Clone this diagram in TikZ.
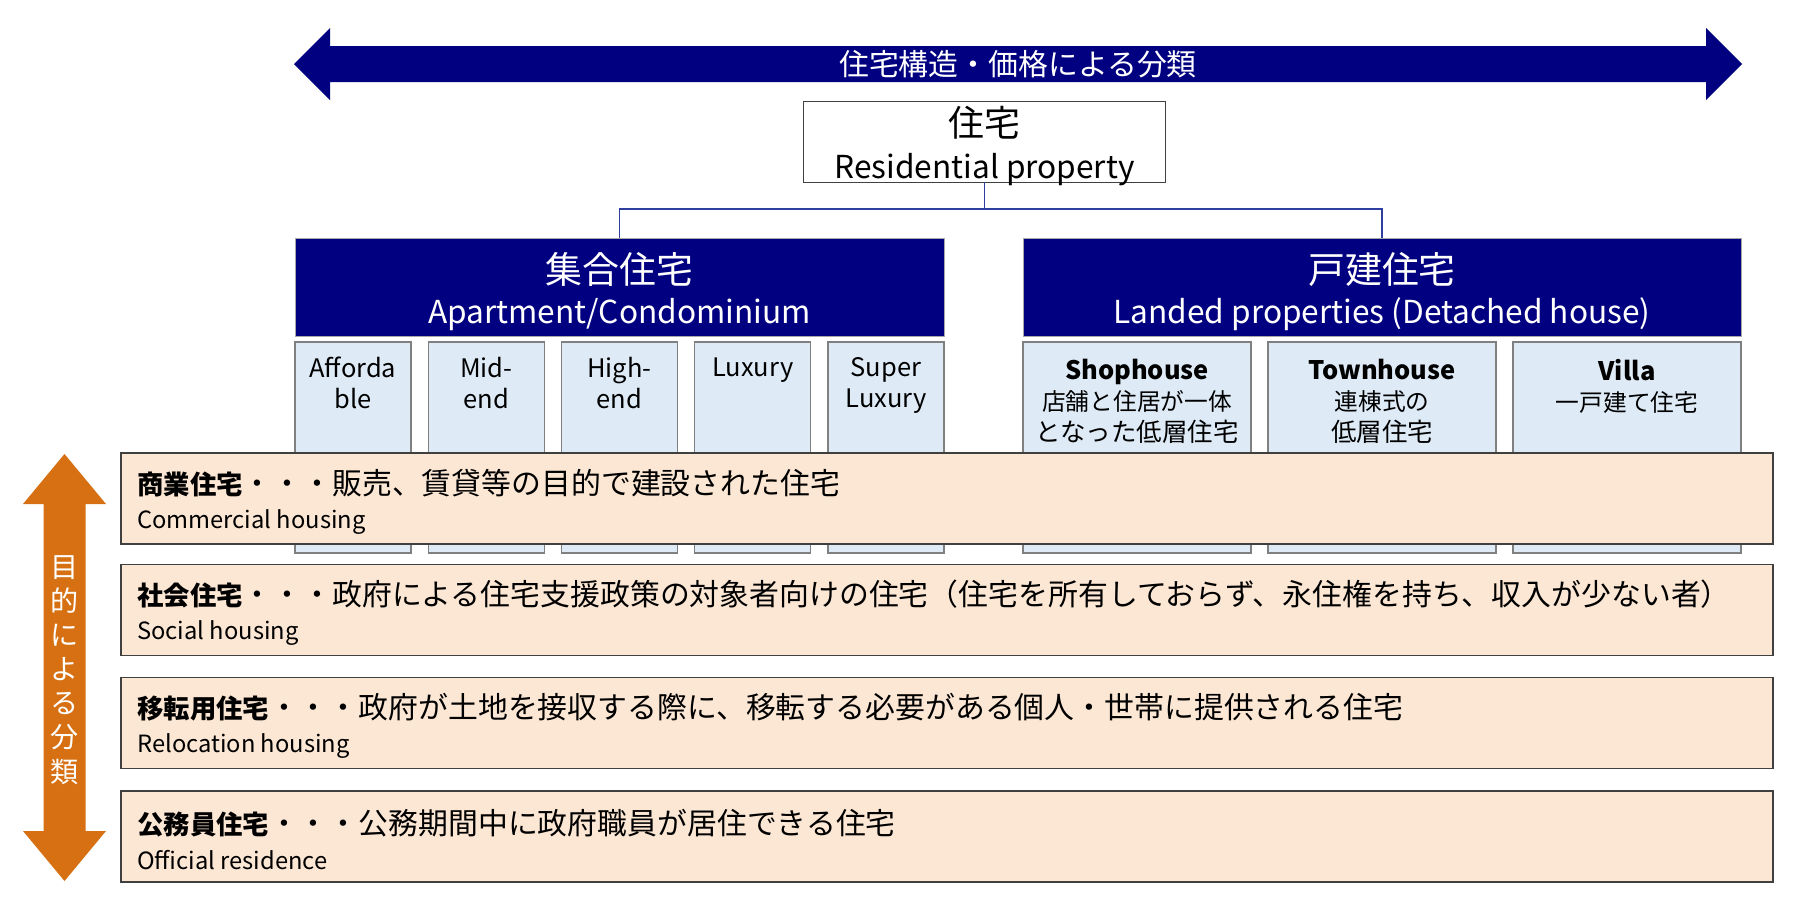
\documentclass[tikz,border=0pt]{standalone}
\usepackage{fontspec}
\setmainfont{Noto Sans CJK JP}
\definecolor{hnavy}{RGB}{0,0,128}
\definecolor{hline}{RGB}{47,63,160}
\definecolor{hlightblue}{RGB}{222,235,247}
\definecolor{hpeach}{RGB}{252,231,212}
\definecolor{horange}{RGB}{214,112,18}
\definecolor{hedge}{RGB}{64,64,64}
\def\pxu{0.02cm}
\tikzset{
  resbox/.style={draw=hedge, line width=0.5pt, fill=white, inner sep=0pt},
  darkbox/.style={draw=gray!70, line width=0.5pt, fill=hnavy, inner sep=0pt, minimum height=98*\pxu},
  headtext/.style={align=center, inner sep=0pt, font=\fontsize{18}{22.8}\selectfont},
  pricebox/.style={draw=gray, line width=0.6pt, fill=hlightblue, minimum height=211*\pxu, inner sep=0pt},
  boxtext/.style={align=center, inner sep=0pt, anchor=north, font=\fontsize{14.5}{17.6}\selectfont},
  usebox/.style={draw=hedge, line width=0.8pt, fill=hpeach, minimum width=1652*\pxu, minimum height=91*\pxu, inner sep=0pt},
  usetext/.style={anchor=west, align=left, inner sep=0pt, font=\fontsize{17}{19.5}\selectfont},
  conn/.style={draw=hline, line width=0.6pt}
}
\begin{document}
\begin{tikzpicture}[x=0.02cm,y=-0.02cm]
\useasboundingbox[fill=white] (0,0) rectangle (1793,900);
\pgfmathsetmacro{\ay}{64}
\pgfmathsetmacro{\al}{294}
\pgfmathsetmacro{\ar}{1742}
  \fill[hnavy] (\al,\ay)--(\al+36,\ay-36)--(\al+36,\ay-18)--(\ar-36,\ay-18)--(\ar-36,\ay-36)--(\ar,\ay)--(\ar-36,\ay+36)--(\ar-36,\ay+18)--(\al+36,\ay+18)--(\al+36,\ay+36)--cycle;
\node (bytype) [text=white, font=\fontsize{17}{20}\selectfont] at (1018,\ay) {住宅構造・価格による分類};

\node (res) [resbox, minimum width=362*\pxu, minimum height=81*\pxu] at (984.5,141.5) {};
\node (res-txt) [headtext, font=\fontsize{18}{24.3}\selectfont] at (984.5,146) {{\fontsize{20.5}{24.3}\selectfont 住宅}\\Residential property};
\node (apt) [darkbox, minimum width=649*\pxu] at (619.5,287) {};
\node (apt-txt) [headtext, text=white] at (619.5,292) {{\fontsize{21}{22.8}\selectfont 集合住宅}\\Apartment/Condominium};
\node (land) [darkbox, minimum width=718*\pxu] at (1382,287) {};
\node (land-txt) [headtext, text=white] at (1382,292) {{\fontsize{21}{22.8}\selectfont 戸建住宅}\\Landed properties (Detached house)};
\coordinate (bus) at (984.5,209);
  \draw[conn] (res.south)--(bus)-|(apt.north);
  \draw[conn] (bus)-|(land.north);

\foreach \i/\nm/\txt in {0/afford/{Afforda\\ble},1/midend/{Mid-\\end},2/highend/{High-\\end},3/luxury/Luxury,4/superlux/{Super\\Luxury}}{
  \node (\nm) [pricebox, minimum width=116*\pxu] at (353+133.25*\i,447.5) {};
  \node (\nm-txt) [boxtext] at (353+133.25*\i,357) {\txt};
}
\foreach \i/\nm/\ttl/\txt in {0/shop/Shophouse/{店舗と住居が一体\\となった低層住宅},1/town/Townhouse/{連棟式の\\低層住宅},2/villa/Villa/{一戸建て住宅}}{
  \node (\nm) [pricebox, minimum width=228*\pxu] at (1137+245*\i,447.5) {};
  \node (\nm-txt) [boxtext] at (1137+245*\i,359) {\textbf{\ttl}\\\fontsize{13.5}{17.6}\selectfont\txt};
}

\foreach \y/\nm/\jp/\bd/\en in {498.5/comm/商業住宅/販売、賃貸等の目的で建設された住宅/Commercial housing,
  610/social/社会住宅/政府による住宅支援政策の対象者向けの住宅（住宅を所有しておらず、永住権を持ち、収入が少ない者）/Social housing,
  723/reloc/移転用住宅/政府が土地を接収する際に、移転する必要がある個人・世帯に提供される住宅/Relocation housing,
  836.5/official/公務員住宅/公務期間中に政府職員が居住できる住宅/Official residence}{
  \node (\nm) [usebox] at (947,\y) {};
  \node (\nm-txt) [usetext] at (137,\y+3) {{\fontsize{15}{19}\selectfont\textbf{\jp}}・・・\bd\\{\fontsize{13.5}{19}\selectfont\en}};
}

\pgfmathsetmacro{\bx}{64.5}
\pgfmathsetmacro{\bt}{454}
\pgfmathsetmacro{\bb}{881}
  \fill[horange] (\bx,\bt)--(\bx+41.5,\bt+50)--(\bx+21,\bt+50)--(\bx+21,\bb-50)--(\bx+41.5,\bb-50)--(\bx,\bb)--(\bx-41.5,\bb-50)--(\bx-21,\bb-50)--(\bx-21,\bt+50)--(\bx-41.5,\bt+50)--cycle;
\node (bypurpose) [text=white, align=center, inner sep=0pt, font=\fontsize{16}{19.4}\selectfont] at (\bx,670) {目\\的\\に\\よ\\る\\分\\類};
\end{tikzpicture}
\end{document}
